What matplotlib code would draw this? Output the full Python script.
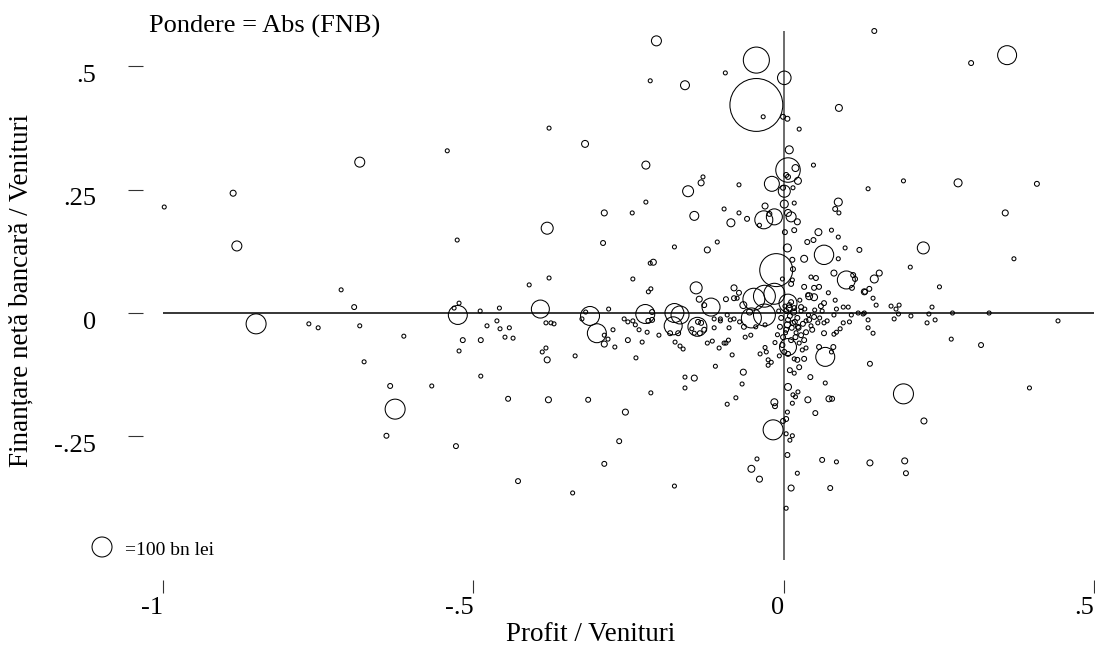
import matplotlib
matplotlib.use("Agg")
import matplotlib.pyplot as plt
import matplotlib.transforms as mtransforms
import numpy as np

# profit / revenue, net bank financing / revenue, |net bank financing| (bn lei)
points = [
    # far left
    (-0.998, 0.215, 4), (-0.887, 0.243, 9), (-0.881, 0.136, 25), (-0.683, 0.306, 25),
    (-0.542, 0.329, 4), (-0.713, 0.047, 4), (-0.692, 0.012, 6), (-0.850, -0.022, 100),
    (-0.765, -0.022, 4), (-0.750, -0.030, 4), (-0.683, -0.026, 4), (-0.612, -0.047, 4),
    (-0.676, -0.099, 4), (-0.634, -0.148, 6), (-0.567, -0.148, 4), (-0.626, -0.195, 100),
    (-0.640, -0.249, 6),
    # upper middle
    (-0.205, 0.552, 25), (-0.215, 0.471, 4), (-0.159, 0.462, 20), (-0.094, 0.487, 4),
    (-0.044, 0.513, 170), (-0.044, 0.422, 700), (-0.033, 0.398, 4), (-0.378, 0.375, 4),
    (-0.320, 0.343, 12), (-0.222, 0.300, 16), (-0.130, 0.276, 4), (-0.133, 0.264, 9),
    (-0.154, 0.247, 30), (-0.072, 0.260, 4), (-0.019, 0.262, 56), (-0.222, 0.225, 4),
    (-0.289, 0.203, 9), (-0.244, 0.203, 4), (-0.144, 0.197, 20), (-0.096, 0.211, 4),
    (-0.072, 0.203, 4), (-0.085, 0.183, 16), (-0.059, 0.191, 6), (-0.032, 0.189, 81),
    (-0.030, 0.217, 9), (-0.023, 0.201, 6), (-0.015, 0.195, 64), (-0.039, 0.178, 4),
    (-0.381, 0.172, 36), (-0.526, 0.148, 4), (-0.291, 0.142, 6), (-0.176, 0.134, 4),
    (-0.123, 0.128, 9), (-0.107, 0.144, 4), (-0.012, 0.087, 272), (-0.210, 0.103, 9),
    (-0.215, 0.101, 4), (-0.378, 0.071, 4), (-0.243, 0.069, 4), (-0.410, 0.057, 4),
    (-0.141, 0.051, 36), (-0.080, 0.051, 9), (-0.072, 0.041, 6), (-0.214, 0.049, 4),
    (-0.218, 0.043, 4), (-0.065, 0.016, 12), (-0.055, 0.002, 9),
    # upper right
    (0.146, 0.572, 6), (0.302, 0.507, 6), (0.360, 0.523, 90), (0.001, 0.477, 46),
    (0.089, 0.416, 12), (0.006, 0.394, 6), (-0.001, 0.398, 6), (0.025, 0.373, 4),
    (0.009, 0.331, 16), (0.007, 0.290, 150), (0.019, 0.294, 12), (0.023, 0.268, 12),
    (0.004, 0.280, 6), (0.007, 0.276, 6), (-0.001, 0.254, 6), (0.015, 0.254, 4),
    (0.001, 0.247, 36), (0.001, 0.221, 16), (0.048, 0.300, 4), (0.136, 0.252, 4),
    (0.193, 0.268, 4), (0.281, 0.264, 16), (0.408, 0.262, 6), (0.357, 0.203, 9),
    (0.371, 0.110, 4), (0.225, 0.132, 36), (0.088, 0.225, 16), (0.083, 0.211, 6),
    (0.089, 0.203, 4), (0.017, 0.223, 4), (0.007, 0.203, 12), (0.012, 0.195, 25),
    (0.022, 0.185, 9), (0.056, 0.164, 12), (0.017, 0.168, 6), (0.002, 0.164, 6),
    (0.077, 0.168, 4), (0.088, 0.154, 4), (0.065, 0.118, 94), (0.033, 0.110, 12),
    (0.099, 0.132, 4), (0.122, 0.128, 6), (0.048, 0.148, 6), (0.038, 0.144, 6),
    (0.006, 0.132, 16), (0.101, 0.067, 81), (0.081, 0.081, 9), (0.112, 0.077, 6),
    (0.115, 0.069, 6), (0.110, 0.051, 6), (0.146, 0.069, 16), (0.154, 0.081, 9),
    (0.138, 0.049, 6), (0.131, 0.043, 6), (0.204, 0.093, 4), (0.251, 0.053, 4),
    (0.052, 0.071, 6), (0.044, 0.073, 4), (0.033, 0.053, 6), (0.049, 0.051, 6),
    (0.057, 0.053, 6), (0.041, 0.034, 12), (0.049, 0.032, 12), (0.088, 0.110, 4),
    (0.014, 0.108, 6), (0.015, 0.089, 6), (-0.002, 0.069, 4), (0.012, 0.059, 6),
    (0.014, 0.067, 4),
    # lower middle-left
    (-0.525, -0.004, 90), (-0.523, 0.020, 4), (-0.531, 0.010, 4), (-0.489, 0.004, 4),
    (-0.458, 0.010, 4), (-0.478, -0.026, 4), (-0.462, -0.016, 4), (-0.457, -0.032, 4),
    (-0.442, -0.030, 4), (-0.449, -0.049, 4), (-0.436, -0.051, 4), (-0.517, -0.055, 6),
    (-0.488, -0.055, 6), (-0.523, -0.077, 4), (-0.488, -0.128, 4), (-0.444, -0.174, 6),
    (-0.528, -0.270, 6), (-0.428, -0.341, 6), (-0.392, 0.008, 81), (-0.383, -0.020, 4),
    (-0.375, -0.020, 4), (-0.370, -0.022, 4), (-0.389, -0.079, 4), (-0.383, -0.071, 4),
    (-0.381, -0.095, 9), (-0.379, -0.176, 9), (-0.336, -0.087, 4), (-0.340, -0.365, 4),
    (-0.315, -0.176, 6), (-0.312, -0.006, 90), (-0.319, 0.002, 4), (-0.325, -0.012, 4),
    (-0.301, -0.041, 90), (-0.289, -0.063, 9), (-0.289, -0.045, 4), (-0.283, -0.053, 4),
    (-0.275, -0.034, 4), (-0.282, 0.008, 4), (-0.272, -0.069, 4), (-0.255, -0.201, 9),
    (-0.265, -0.260, 6), (-0.289, -0.306, 6), (-0.238, -0.091, 4), (-0.257, -0.012, 4),
    (-0.251, -0.018, 4), (-0.243, -0.016, 4), (-0.239, -0.024, 4), (-0.233, -0.034, 4),
    (-0.228, -0.059, 4), (-0.220, -0.039, 4), (-0.251, -0.055, 6), (-0.223, -0.002, 90),
    (-0.212, 0.002, 6), (-0.218, -0.016, 6), (-0.212, -0.014, 6), (-0.214, -0.162, 4),
    (-0.201, -0.045, 4), (-0.176, 0.000, 90), (-0.178, -0.026, 81), (-0.167, -0.004, 81),
    (-0.183, -0.041, 6), (-0.170, -0.041, 6), (-0.175, -0.059, 4), (-0.167, -0.067, 4),
    (-0.162, -0.073, 4), (-0.159, -0.130, 4), (-0.144, -0.132, 9), (-0.159, -0.152, 4),
    (-0.176, -0.351, 4), (-0.139, -0.028, 90), (-0.138, -0.018, 6), (-0.133, -0.020, 6),
    (-0.148, -0.032, 4), (-0.135, -0.041, 6), (-0.128, -0.034, 6), (-0.144, -0.041, 4),
    (-0.117, 0.012, 81), (-0.128, 0.016, 6), (-0.136, 0.028, 9), (-0.123, -0.061, 4),
    (-0.115, -0.057, 4), (-0.112, -0.030, 4), (-0.104, -0.071, 4), (-0.096, -0.061, 4),
    (-0.093, -0.061, 4), (-0.089, -0.055, 4), (-0.110, -0.108, 4), (-0.083, -0.085, 4),
    (-0.093, 0.028, 6), (-0.080, 0.030, 6), (-0.075, 0.030, 4), (-0.102, -0.016, 4),
    (-0.112, -0.012, 4), (-0.102, -0.012, 4), (-0.086, -0.014, 4), (-0.080, -0.012, 4),
    (-0.091, -0.004, 4), (-0.088, -0.030, 4), (-0.065, -0.120, 9), (-0.067, -0.144, 4),
    (-0.077, -0.172, 4), (-0.091, -0.185, 4), (-0.015, -0.181, 12), (-0.014, -0.189, 6),
    (-0.017, -0.237, 100), (-0.043, -0.296, 4), (-0.052, -0.316, 12), (-0.039, -0.337, 9),
    (-0.038, -0.083, 4), (-0.028, -0.079, 4), (-0.025, -0.095, 4), (-0.025, -0.106, 4),
    (-0.045, -0.028, 4), (-0.030, -0.024, 4), (-0.064, -0.028, 6), (-0.062, -0.049, 4),
    (-0.053, -0.045, 4), (-0.071, -0.018, 4),
    # big circles around the origin
    (-0.048, 0.028, 120), (-0.031, 0.034, 120), (-0.015, 0.039, 110), (-0.031, -0.004, 120),
    (-0.052, -0.010, 100), (0.007, 0.020, 81),
    # lower right
    (0.331, 0.000, 4), (0.442, -0.016, 4), (0.272, 0.000, 4), (0.239, 0.012, 4),
    (0.234, -0.002, 4), (0.231, -0.020, 4), (0.244, -0.014, 4), (0.205, -0.006, 4),
    (0.186, 0.016, 4), (0.181, 0.008, 4), (0.173, 0.014, 4), (0.185, -0.002, 4),
    (0.178, -0.012, 4), (0.270, -0.053, 4), (0.318, -0.065, 6), (0.396, -0.152, 4),
    (0.193, -0.164, 100), (0.226, -0.219, 9), (0.139, -0.103, 6), (0.144, -0.041, 4),
    (0.136, -0.030, 4), (0.067, -0.089, 90), (0.007, -0.069, 72), (0.043, -0.130, 6),
    (0.067, -0.142, 4), (0.025, -0.110, 6), (0.010, -0.116, 6), (0.017, -0.122, 4),
    (0.007, -0.150, 12), (0.023, -0.160, 4), (0.015, -0.166, 4), (0.019, -0.170, 4),
    (0.014, -0.183, 4), (0.039, -0.176, 9), (0.073, -0.174, 9), (0.078, -0.174, 6),
    (0.051, -0.203, 6), (0.004, -0.215, 6), (-0.001, -0.219, 6), (0.006, -0.201, 4),
    (0.004, -0.245, 4), (0.014, -0.249, 4), (0.010, -0.258, 4), (0.006, -0.288, 6),
    (0.062, -0.298, 6), (0.085, -0.302, 4), (0.139, -0.304, 9), (0.195, -0.300, 9),
    (0.197, -0.325, 6), (0.022, -0.325, 4), (0.012, -0.355, 9), (0.075, -0.355, 6),
    (0.004, -0.396, 4), (0.080, -0.069, 6), (0.057, -0.069, 6), (0.077, -0.079, 4),
    (0.033, -0.093, 6), (0.022, -0.095, 6), (0.017, -0.093, 4),
    # dense core
    (0.096, 0.012, 4), (0.104, 0.012, 4), (0.085, 0.008, 4), (0.081, -0.004, 4),
    (0.109, -0.004, 4), (0.106, -0.018, 4), (0.096, -0.020, 4), (0.091, -0.032, 4),
    (0.085, -0.039, 4), (0.081, -0.043, 4), (0.065, -0.041, 6), (0.065, -0.020, 4),
    (0.055, -0.020, 4), (0.046, -0.034, 6), (0.036, -0.039, 6), (0.028, -0.045, 6),
    (0.033, -0.055, 6), (0.019, -0.049, 6), (0.023, -0.028, 6), (0.015, -0.020, 6),
    (0.007, -0.014, 6), (0.004, -0.034, 6), (-0.001, -0.049, 6), (0.128, -0.002, 4),
    (0.130, 0.000, 4), (0.120, 0.000, 4), (0.136, -0.014, 4), (0.144, 0.030, 4),
    (0.149, 0.016, 4), (0.130, 0.043, 9), (0.072, 0.041, 4), (0.083, 0.026, 4),
    (0.039, 0.037, 4), (0.060, 0.014, 6), (0.028, 0.012, 6), (0.017, 0.010, 6),
    (0.009, 0.016, 6), (0.065, 0.020, 6), (0.049, -0.008, 6), (0.041, -0.014, 6),
    (0.036, -0.071, 4), (0.030, -0.075, 4), (0.001, -0.079, 6), (0.007, -0.083, 6),
    (0.025, -0.061, 4), (0.012, -0.055, 6), (0.004, 0.004, 6), (0.010, -0.006, 6),
    (0.016, 0.002, 9), (0.022, -0.010, 6), (0.028, 0.004, 4), (0.006, -0.024, 9),
    (0.013, -0.030, 6), (0.020, -0.040, 4), (0.031, -0.022, 6), (0.002, 0.014, 4),
    (0.012, 0.022, 6), (0.026, 0.026, 4), (0.034, 0.008, 4), (0.040, -0.004, 4),
    (0.044, -0.026, 4), (0.003, -0.040, 4), (0.018, -0.018, 6), (0.009, 0.010, 9),
    (0.024, -0.030, 6), (0.036, -0.016, 4), (-0.004, -0.010, 6), (-0.008, 0.004, 4),
    (-0.006, -0.028, 6), (-0.010, -0.044, 4), (-0.014, -0.060, 4), (-0.002, -0.065, 6),
    (0.050, 0.006, 4), (0.058, -0.010, 4), (0.062, 0.004, 4), (0.070, -0.016, 4),
    (-0.007, -0.087, 4), (-0.020, -0.100, 4), (-0.030, -0.070, 4),
]

profit_ratio = np.array([p[0] for p in points])
fnb_ratio = np.array([p[1] for p in points])
fnb_abs = np.array([p[2] for p in points])

x_ticks = [-1, -0.5, 0, 0.5]
x_tick_labels = ["-1", "-.5", "0", ".5"]
y_ticks = [-0.25, 0, 0.25, 0.5]
y_tick_labels = ["-.25", "0", ".25", ".5"]
legend_weight = 100

FONT = "Liberation Serif"
SIZE_SCALE = 2.07  # points^2 per bn lei -> 100 bn lei ~ 20 px circle

fig = plt.figure(figsize=(10.95, 6.46), dpi=100)
ax = fig.add_axes([163 / 1095, 1 - 560 / 646, 931 / 1095, 529 / 646])
ax.set_xlim(-1, 0.5)
ax.set_ylim(-0.501, 0.572)

ax.axhline(0, color="black", lw=1.1, zorder=1)
ax.axvline(0, color="#606060", lw=1.3, zorder=1)

ax.scatter(profit_ratio, fnb_ratio, s=fnb_abs * SIZE_SCALE, facecolors="none",
           edgecolors="black", linewidths=0.75, zorder=2, clip_on=False)

for side in ["top", "right", "left", "bottom"]:
    ax.spines[side].set_visible(False)
ax.spines["left"].set_position(("outward", 14.4))
ax.spines["bottom"].set_position(("outward", 14.4))

ax.set_xticks(x_ticks)
ax.set_xticklabels(x_tick_labels, fontfamily=FONT, fontsize=19, ha="right")
ax.set_yticks(y_ticks)
ax.set_yticklabels(y_tick_labels, fontfamily=FONT, fontsize=19)
ax.tick_params(axis="x", length=9.4, width=0.8, pad=3, color="#333333")
ax.tick_params(axis="y", length=10.8, width=0.8, pad=23, color="#333333")

# y tick labels sit a little below their ticks in the original
shift_down = mtransforms.ScaledTranslation(0, -7 / 100, fig.dpi_scale_trans)
for lab in ax.get_yticklabels():
    lab.set_transform(lab.get_transform() + shift_down)

# legend: one reference circle
ax.scatter([-0.0655], [0.0246], s=legend_weight * SIZE_SCALE, facecolors="none",
           edgecolors="black", linewidths=0.75, transform=ax.transAxes, clip_on=False)
fig.text(125 / 1095, 1 - 555 / 646, f"={legend_weight} bn lei", fontfamily=FONT,
         fontsize=14, va="baseline", ha="left")

fig.text(149 / 1095, 1 - 33 / 646, "Pondere = Abs (FNB)", fontfamily=FONT,
         fontsize=19, va="baseline", ha="left")
fig.text(591 / 1095, 1 - 641 / 646, "Profit / Venituri", fontfamily=FONT,
         fontsize=19.5, va="baseline", ha="center")
fig.text(21 / 1095, 1 - 290 / 646, "Finanțare netă bancară / Venituri", fontfamily=FONT,
         fontsize=19.5, va="center", ha="center", rotation=90)

fig.savefig("out.png", dpi=100)
